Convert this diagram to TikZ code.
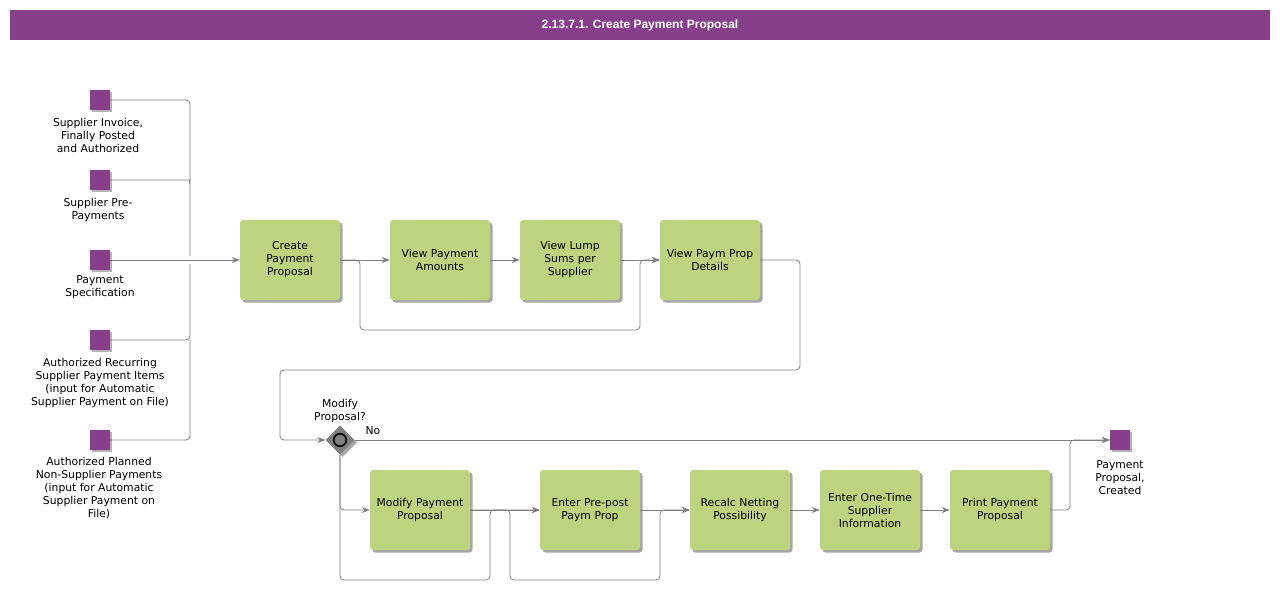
\documentclass[tikz,border=0pt]{standalone}
\usepackage{fontspec}
\newfontfamily\dvs{DejaVu Sans}
\newfontfamily\lib{Liberation Sans}
\usetikzlibrary{arrows.meta,shapes.geometric,shadows}
\definecolor{bpurple}{HTML}{873F8B}
\definecolor{bgreen}{HTML}{BDD37D}
\definecolor{bline}{HTML}{7F7F7F}
\definecolor{bgate}{HTML}{808080}
\tikzset{
  txt/.style={font=\dvs\fontsize{10.8}{13}\selectfont, align=center, inner sep=0pt, text=black},
  task/.style={txt, rectangle, rounded corners=3pt, fill=bgreen, minimum width=100pt, minimum height=80pt, text width=98pt,
    drop shadow={shadow xshift=2.5pt, shadow yshift=-2.5pt, opacity=0.35, fill=black}},
  evt/.style={rectangle, fill=bpurple, minimum size=20pt, inner sep=0pt,
    drop shadow={shadow xshift=2pt, shadow yshift=-2pt, opacity=0.3, fill=black}},
  gate/.style={diamond, fill=bgate, minimum width=29pt, minimum height=29pt, inner sep=0pt,
    drop shadow={shadow xshift=2.5pt, shadow yshift=-2.5pt, opacity=0.35, fill=black}},
  flow/.style={draw=bline, line width=0.8pt, rounded corners=4pt, -{Stealth[length=8pt,width=6pt]}},
  plain/.style={draw=bline, line width=0.8pt, rounded corners=4pt},
}
\begin{document}
\begin{tikzpicture}[x=1pt,y=-1pt]
\useasboundingbox (0,0) rectangle (1280,611);
\fill[white] (0,0) rectangle (1280,611);
% title
\node[fill=bpurple, minimum width=1260pt, minimum height=30pt, inner sep=0pt, text=white, font=\lib\bfseries\fontsize{12}{14}\selectfont] (title) at (640,25) {2.13.7.1. Create Payment Proposal};

% start events
\node[evt] (e1) at (100,100) {};
\node[evt] (e2) at (100,180) {};
\node[evt] (e3) at (100,260) {};
\node[evt] (e4) at (100,340) {};
\node[evt] (e5) at (100,440) {};
\node[txt, anchor=north] (l1) at (98,118.5) {Supplier Invoice,\\Finally Posted\\and Authorized};
\node[txt, anchor=north] (l2) at (98,198.5) {Supplier Pre-\\Payments};
\node[txt, anchor=north] (l3) at (100,275.5) {Payment\\Specification};
\node[txt, anchor=north] (l4) at (100,358.5) {Authorized Recurring\\Supplier Payment Items\\(input for Automatic\\Supplier Payment on File)};
\node[txt, anchor=north] (l5) at (99,457.5) {Authorized Planned\\Non-Supplier Payments\\(input for Automatic\\Supplier Payment on\\File)};

% tasks row 1
\node[task] (t1) at (290,260) {Create\\Payment\\Proposal};
\node[task] (t2) at (440,260) {View Payment\\Amounts};
\node[task] (t3) at (570,260) {View Lump\\Sums per\\Supplier};
\node[task] (t4) at (710,260) {View Paym Prop\\Details};

% gateway
\node[gate] (g) at (340,440) {};
\draw[black, line width=1.6pt, fill=bgate] (g.center) circle (6.3pt);
\node[txt, anchor=south] (gl) at (340,423) {Modify\\Proposal?};
\node[txt] (no) at (373,431) {No};

% tasks row 2
\node[task] (m1) at (420,510) {Modify Payment\\Proposal};
\node[task] (m2) at (590,510) {Enter Pre-post\\Paym Prop};
\node[task] (m3) at (740,510) {Recalc Netting\\Possibility};
\node[task] (m4) at (870,510) {Enter One-Time\\Supplier\\Information};
\node[task] (m5) at (1000,510) {Print Payment\\Proposal};

% end event
\node[evt] (end) at (1120,440) {};
\node[txt, anchor=north] (le) at (1120,460.5) {Payment\\Proposal,\\Created};

% connectors from start events
\draw[plain] (e1.east) -- (190,100) -- (190,256);
\draw[plain] (e2.east) -- (186,180) to[out=0,in=90] (190,184);
\draw[plain] (e4.east) -- (190,340) -- (190,264);
\draw[plain] (e5.east) -- (190,440) -- (190,340);
\draw[flow] (e3.east) -- (t1.west);

% row 1
\draw[flow] (t1.east) -- (t2.west);
\draw[flow] (t1.east) -- (360,260) -- (360,330) -- (640,330) -- (640,260) -- (t4.west);
\draw[flow] (t2.east) -- (t3.west);
\draw[flow] (t3.east) -- (t4.west);
\draw[flow] (t4.east) -- (800,260) -- (800,370) -- (280,370) -- (280,440) -- (g.west);

% gateway outputs
\draw[flow] (g.east) -- (end.west);
\draw[flow] (g.south) -- (340,510) -- (m1.west);
\draw[flow] (g.south) -- (340,580) -- (490,580) -- (490,510) -- (m2.west);

% row 2
\draw[flow] (m1.east) -- (m2.west);
\draw[flow] (m1.east) -- (510,510) -- (510,580) -- (660,580) -- (660,510) -- (m3.west);
\draw[flow] (m2.east) -- (m3.west);
\draw[flow] (m3.east) -- (m4.west);
\draw[flow] (m4.east) -- (m5.west);
\draw[flow] (m5.east) -- (1070,510) -- (1070,440) -- (end.west);
\end{tikzpicture}
\end{document}
